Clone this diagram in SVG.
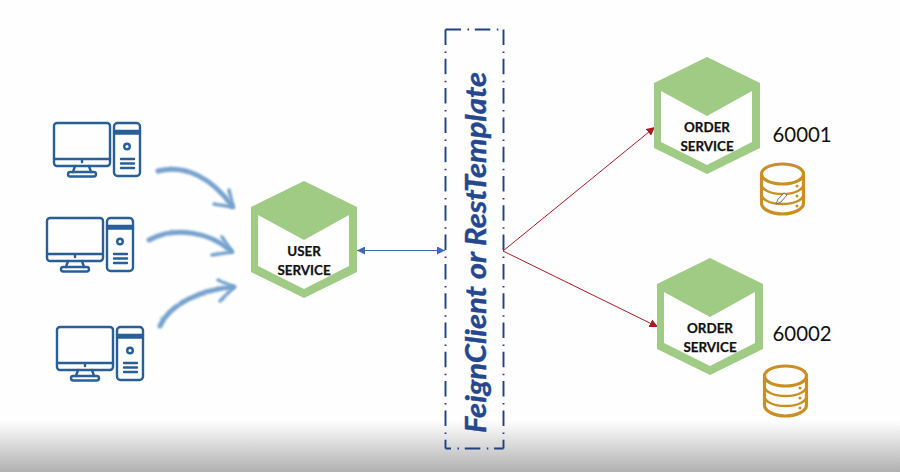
<svg xmlns="http://www.w3.org/2000/svg" width="900" height="472" viewBox="0 0 900 472">
<style>
.hexlabel{font-family:Lato,"Open Sans","Liberation Sans",sans-serif;font-weight:700;font-size:13.4px;fill:#111;stroke:#111;stroke-width:0.25;text-anchor:middle}
.port{font-family:Lato,"Open Sans","Liberation Sans",sans-serif;font-size:20.4px;fill:#111}
.pc{fill:none;stroke:#285f98;stroke-width:2.4;stroke-linejoin:round;stroke-linecap:round}
.db{fill:none;stroke:#c98f22;stroke-width:3.2;stroke-linejoin:round}
.brush{fill:none;stroke:#76a2ce;stroke-linecap:round;filter:url(#soft)}
.frame{fill:none;stroke:#1f4180;stroke-width:1.9;stroke-dasharray:15.5 6.5 1.5 5.800}
</style>
<defs>
<linearGradient id="shade" x1="0" y1="0" x2="0" y2="1">
<stop offset="0" stop-color="#fefefe"/><stop offset="1" stop-color="#b0b0b0"/>
</linearGradient>
<filter id="soft" x="-20%" y="-20%" width="140%" height="140%">
<feTurbulence type="fractalNoise" baseFrequency="0.35" numOctaves="2" seed="4" result="n"/>
<feDisplacementMap in="SourceGraphic" in2="n" scale="2" result="d"/>
<feGaussianBlur in="d" stdDeviation="1"/>
</filter>
<marker id="blue" viewBox="0 0 10 10" refX="10" refY="5" markerWidth="8" markerHeight="8" orient="auto-start-reverse" markerUnits="userSpaceOnUse"><path d="M0 0L10 5L0 10Z" fill="#4068b4"/></marker>
<marker id="red" viewBox="0 0 10 10" refX="10" refY="5" markerWidth="8.500" markerHeight="8.500" orient="auto" markerUnits="userSpaceOnUse"><path d="M0 0L10 5L0 10Z" fill="#a51c24"/></marker>
<g id="hex">
<path fill="#a0cb85" fill-rule="evenodd" d="M53 0L106 26V91L53 117L0 91V26ZM7 34V85L53 108L98 85V34L53 59Z"/>
</g>
<g id="pc" class="pc">
<rect x="0" y="0" width="56" height="43" rx="3"/>
<path d="M0 36H56M28 36V39M21 43L19 49M35 43L37 49"/>
<rect x="14" y="49" width="28" height="4.500" rx="2.200"/>
<rect x="60" y="0" width="26" height="53" rx="3.500"/>
<path d="M60 8H86M60 10.500H86M67 36H80M67 40.500H80M67 45H80"/>
<circle cx="73" cy="23.500" r="2.800"/>
</g>
<g id="dbicon" class="db">
<ellipse cx="22.500" cy="11" rx="21" ry="10"/>
<path d="M1.500 11V40C1.500 46 11 51 22.500 51S43.500 46 43.500 40V11"/>
<path d="M1.500 21C1.500 27 11 31 22.500 31S43.500 27 43.500 21M1.500 31C1.500 37 11 41 22.500 41S43.500 37 43.500 31" stroke-width="2.400"/>
<circle cx="37" cy="23" r="1.500" fill="#c98f22" stroke="none"/>
<circle cx="37" cy="33" r="1.500" fill="#c98f22" stroke="none"/>
<circle cx="37" cy="43" r="1.500" fill="#c98f22" stroke="none"/>
</g>
</defs>
<rect width="900" height="472" fill="#fefefe"/>
<rect y="421" width="900" height="51" fill="url(#shade)"/>

<g id="computers">
<use href="#pc" x="54" y="123"/>
<use href="#pc" x="47" y="218"/>
<use href="#pc" x="57" y="327"/>
</g>

<g id="connectors">
<g id="brush-arrows">
<path class="brush" stroke-width="5" d="M158 171C185 164 212 178 232 206"/>
<path class="brush" stroke-width="3.500" d="M229 190L233 207L214 204"/>
<path class="brush" stroke-width="5" d="M149 240C175 226 210 232 231 251"/>
<path class="brush" stroke-width="3.500" d="M222 237L232 252L212 255"/>
<path class="brush" stroke-width="5" d="M160 326C170 304 200 290 233 287"/>
<path class="brush" stroke-width="3.500" d="M218 280L234 287L220 301"/>
</g>
<line x1="357" y1="250.500" x2="445" y2="250.500" stroke="#4068b4" stroke-width="1" marker-start="url(#blue)" marker-end="url(#blue)"/>
<line x1="503" y1="251" x2="655" y2="127" stroke="#a51c24" stroke-width="1" marker-end="url(#red)"/>
<line x1="503" y1="251" x2="658" y2="327" stroke="#a51c24" stroke-width="1" marker-end="url(#red)"/>
</g>

<g id="user-service">
<use href="#hex" x="251" y="181"/>
<text class="hexlabel" x="304" y="256">USER</text>
<text class="hexlabel" x="304" y="275">SERVICE</text>
</g>

<g id="feign-box">
<path class="frame" d="M445.500 29.500H503.500"/>
<path class="frame" d="M445.500 29.500V448.500"/>
<path class="frame" d="M503.500 29.500V448.500"/>
<path class="frame" stroke-dashoffset="10" d="M445.500 448.500H503.500"/>
<text transform="translate(486 433) rotate(-90)" textLength="361" lengthAdjust="spacingAndGlyphs" font-family="Lato,'Open Sans','Liberation Sans',sans-serif" font-weight="700" font-style="italic" font-size="29" fill="#24478f" stroke="#24478f" stroke-width="0.4">FeignClient or RestTemplate</text>
</g>

<g id="order-service-1">
<use href="#hex" x="654" y="57"/>
<text class="hexlabel" x="707" y="132">ORDER</text>
<text class="hexlabel" x="707" y="151">SERVICE</text>
<text class="port" x="772.500" y="142">60001</text>
<use href="#dbicon" x="760" y="163"/>
<path d="M776 204L778 199L784 193L787 195L781 202Z" fill="#f4f4f4" stroke="#666" stroke-width="0.900"/>
</g>

<g id="order-service-2">
<use href="#hex" x="657" y="258"/>
<text class="hexlabel" x="710" y="333">ORDER</text>
<text class="hexlabel" x="710" y="352">SERVICE</text>
<text class="port" x="772.500" y="341">60002</text>
<use href="#dbicon" x="763" y="365"/>
</g>
</svg>
